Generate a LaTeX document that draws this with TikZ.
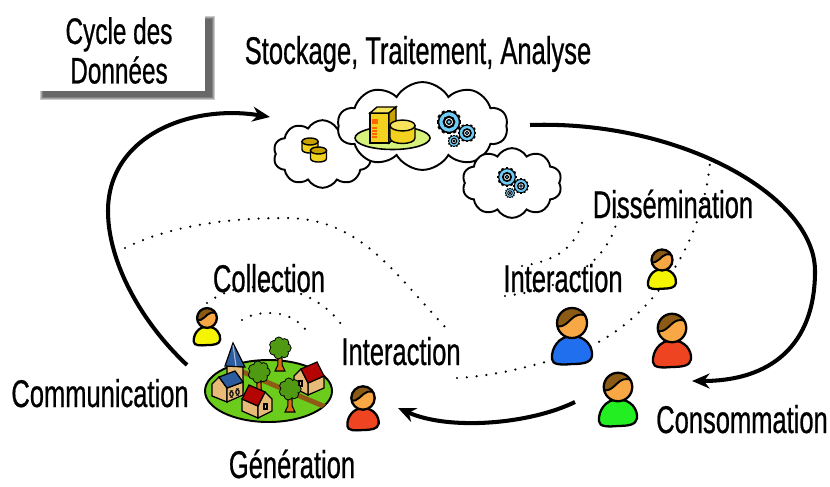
\documentclass[tikz,border=0pt]{standalone}
\usepackage{fontspec}
\newfontfamily\labelfont[FakeStretch=0.66,FakeBold=0.6]{Liberation Sans}
\usetikzlibrary{shapes.symbols,arrows.meta}

\definecolor{skin}{HTML}{F7A844}
\definecolor{hair}{HTML}{8B5A14}
\definecolor{shirtyellow}{HTML}{F5F500}
\definecolor{shirtblue}{HTML}{1F6FEF}
\definecolor{shirtred}{HTML}{EE4422}
\definecolor{shirtgreen}{HTML}{22EE22}
\definecolor{gearblue}{HTML}{6DCDF7}
\definecolor{dbgold}{HTML}{C9A200}
\definecolor{dbyellow}{HTML}{F2D21E}
\definecolor{dblight}{HTML}{F8E45A}
\definecolor{lawn}{HTML}{6CCC1C}
\definecolor{road}{HTML}{8E5A16}
\definecolor{wall}{HTML}{E8BA78}
\definecolor{roofred}{HTML}{B40404}
\definecolor{roofblue}{HTML}{2D5C9E}
\definecolor{leaf}{HTML}{4F9A12}
\definecolor{trunk}{HTML}{D86C12}
\definecolor{platter}{HTML}{D6F27A}

\tikzset{
	lbl/.style={font=\labelfont\fontsize{22}{26}\selectfont, anchor=base, inner sep=0pt},
	titlebox/.style={fill=white, inner sep=0pt, minimum width=97.5pt, minimum height=46pt, align=center,
		font=\labelfont\fontsize{21}{22.5}\selectfont},
	flow/.style={line width=2.3pt, -{Stealth[length=10pt,width=8.5pt]}},
	link/.style={line width=1.4pt, line cap=round, dash pattern=on 0pt off 5.6pt},
	puff/.style={cloud, cloud puffs=10, cloud puff arc=120, cloud ignores aspect, draw, line width=1.1pt,
		fill=white, inner sep=0pt},
	pics/person/.style={code={
		\draw[line width=1.3pt, fill=#1] (0,13) .. controls (14,13) and (21,24) .. (20,33)
			.. controls (19,40) and (10,41) .. (0,41) .. controls (-10,42) and (-20,42) .. (-20,36)
			.. controls (-21,25) and (-13,13) .. cycle;
		\begin{scope}
			\clip (0,0) circle (15);
			\fill[skin] (0,0) circle (15);
			\fill[hair] (-16,3) .. controls (-6,6) and (-2,-6) .. (6,-8) .. controls (10,-9) and (13,-8) .. (16,-6)
				-- (16,-16) -- (-16,-16) -- cycle;
			\draw[line width=1.1pt] (-16,3) .. controls (-6,6) and (-2,-6) .. (6,-8) .. controls (10,-9) and (13,-8) .. (16,-6);
		\end{scope}
		\draw[line width=1.3pt] (0,0) circle (15);
	}},
	pics/gear/.style={code={
		\begin{scope}[scale=#1]
			\foreach \a in {0,30,...,330}
				\fill[rotate=\a] (8.4,-1.3) rectangle (10.4,1.3);
			\draw[fill=gearblue, line width=#1*0.7pt] (0,0) circle (8.8);
			\draw[fill=white, line width=#1*1pt] (0,0) circle (4.4);
			\draw[fill=gearblue, line width=#1*0.6pt] (0,0) circle (1.9);
		\end{scope}
	}},
	pics/cylinder/.style 2 args={code={
		\draw[fill=#2, line width=0.8pt] (-8,0) -- (-8,8) .. controls (-8,12.7) and (8,12.7) .. (8,8) -- (8,0) -- cycle;
		\draw[fill=#1, line width=0.8pt] (0,0) ellipse (8 and 3.5);
	}},
	pics/tree/.style={code={
		\draw[fill=trunk, line width=0.6pt] (-1.8,5) -- (-2.2,17) -- (-5,23) -- (5,23) -- (2.2,17) -- (1.8,5) -- cycle;
		\fill (0,0) circle (8.2);
		\foreach \a in {0,52,...,312}
			\fill (\a:6.8) circle (4.8);
		\fill[leaf] (0,0) circle (7.2);
		\foreach \a in {0,52,...,312}
			\fill[leaf] (\a:6.8) circle (3.8);
	}},
	pics/house/.style={code={
		\draw[fill=wall, line width=0.7pt] (0,0) -- (-16,-7) -- (-16,-19) -- (0,-12) -- cycle;
		\draw[fill=wall, line width=0.7pt] (0,0) -- (14,-7) -- (14,-19) -- (7,-26) -- (0,-12) -- cycle;
		\draw[fill=roofred, line width=0.7pt] (0,-12) -- (7,-26) -- (-9,-33) -- (-16,-19) -- cycle;
		\draw[line width=0.6pt] (6,-14) rectangle (9,-9);
	}}
}

\begin{document}
\begin{tikzpicture}[x=0.02cm, y=-0.02cm]
	%%%%% START %%%%%
	\useasboundingbox (0,0) rectangle (830,486);

	% title with soft shadow
	\foreach \d in {0,1,2,3}
		\fill[black, opacity=0.2] (39.5+\d,16.5+\d) rectangle (214.5-\d,100.5-\d);
	\node[titlebox] (title) at (119,50.5) {Cycle des\\Donn\'ees};

	% dotted exchanges
	\draw[link] (125,248) .. controls (165,228) and (220,218) .. (285,218) .. controls (362,218) and (395,275) .. (448,330);
	\draw[link] (207,303) .. controls (225,290) and (240,287) .. (262,287) .. controls (300,287) and (330,305) .. (345,330);
	\draw[link] (242,320) .. controls (250,315) and (258,313) .. (270,313) .. controls (288,313) and (302,322) .. (310,336);
	\draw[link] (457,378) .. controls (500,376) and (560,360) .. (593,345) .. controls (640,322) and (700,260) .. (710,163);
	\draw[link] (522,266) .. controls (560,260) and (578,245) .. (584,215);
	\draw[link] (505,296) .. controls (575,288) and (612,255) .. (618,215);

	% clouds
	\node[puff, minimum width=56pt, minimum height=38.5pt] (cloudL) at (322.5,154) {};
	\node[puff, minimum width=97pt, minimum height=50pt] (cloudM) at (422.5,126) {};
	\node[puff, minimum width=56.7pt, minimum height=39.7pt] (cloudR) at (512,183) {};

	\pic at (310,141.5) {cylinder={dbgold}{dbyellow}};
	\pic at (318.5,150.5) {cylinder={dbgold}{dbyellow}};

	\draw[fill=platter, line width=0.9pt] (392.5,138) ellipse (37.5 and 11.5);
	\draw[fill=dbyellow, line width=0.8pt] (370,113) rectangle (389,143);
	\draw[fill=dblight, line width=0.8pt] (370,113) -- (377,107) -- (396,107) -- (389,113) -- cycle;
	\draw[fill=dbgold, line width=0.8pt] (389,113) -- (396,107) -- (396,137) -- (389,143) -- cycle;
	\fill[orange!80!red] (372,119) rectangle (378,124);
	\foreach \yy in {128,131,134,137}
		\draw[orange!80!red, line width=0.6pt] (372,\yy) -- (377,\yy);
	\pic[scale=1.56] at (402.5,125.5) {cylinder={dblight}{dbyellow}};

	\pic at (449,122) {gear=1.2};
	\pic at (467,133) {gear=0.9};
	\pic at (454,141) {gear=0.62};
	\pic at (507,177) {gear=0.95};
	\pic at (521,186) {gear=0.75};
	\pic at (510,193) {gear=0.5};

	% cycle arrows
	\coordinate (genOut) at (187,365);
	\coordinate (storeIn) at (270,117);
	\coordinate (storeOut) at (530,125);
	\coordinate (consIn) at (692,381);
	\coordinate (consOut) at (575,402);
	\coordinate (genIn) at (398,408);
	\draw[flow] (genOut) .. controls (140,321) and (108,261) .. (108,211) .. controls (108,136) and (190,104) .. (storeIn);
	\draw[flow] (storeOut) .. controls (680,120) and (815,196) .. (815,271) .. controls (815,346) and (770,381) .. (consIn);
	\draw[flow] (consOut) .. controls (530,424) and (450,431) .. (genIn);

	% village
	\draw[fill=lawn, line width=1.1pt] (268.5,391) ellipse (63.5 and 31);
	\begin{scope}
		\clip (268.5,391) ellipse (63.5 and 31);
		\draw[road, line width=2.8pt] (243,372) -- (335,411);
	\end{scope}
	\pic at (280,348) {tree};
	\draw[fill=wall, line width=0.7pt] (227,365) -- (243,367) -- (243,390) -- (227,390) -- cycle;
	\draw[fill=roofblue, line width=0.7pt] (225,366) -- (233,343) -- (245,367) -- cycle;
	\draw[roofblue!40!white, line width=0.6pt] (233,345) -- (236,366);
	\draw[fill=wall, line width=0.7pt] (212,396) -- (227,402) -- (227,388) -- (219,377) -- (212,384) -- cycle;
	\draw[fill=wall, line width=0.7pt] (227,402) -- (243,395) -- (243,382) -- (227,388) -- cycle;
	\draw[fill=roofblue, line width=0.7pt] (219,377) -- (227,388) -- (243,382) -- (235,371) -- cycle;
	\draw[line width=0.6pt, rounded corners=1pt] (230,397) rectangle (233,391);
	\draw[line width=0.6pt, rounded corners=1pt] (236,395) rectangle (239,389);
	\pic[xscale=-1] at (308,395) {house};
	\pic at (259,372) {tree};
	\pic at (258,418) {house};
	\pic at (290,389) {tree};

	% people
	\pic[scale=0.66] at (207,318) {person=shirtyellow};
	\pic[scale=0.78] at (363,398) {person=shirtred};
	\pic at (572,323) {person=shirtblue};
	\pic[scale=0.7] at (662,260) {person=shirtyellow};
	\pic[scale=0.95] at (672,328) {person=shirtred};
	\pic[scale=0.95] at (618,387) {person=shirtgreen};

	% labels
	\node[lbl] (stock) at (418,64) {Stockage, Traitement, Analyse};
	\node[lbl] (collect) at (269,292) {Collection};
	\node[lbl] (interVillage) at (401,365) {Interaction};
	\node[lbl] (interUsers) at (563,292) {Interaction};
	\node[lbl] (dissem) at (673,218) {Diss\'emination};
	\node[lbl] (comm) at (100,407) {Communication};
	\node[lbl] (gen) at (292,478) {G\'en\'eration};
	\node[lbl] (conso) at (742,433) {Consommation};

	%%%%% END %%%%%
\end{tikzpicture}
\end{document}
